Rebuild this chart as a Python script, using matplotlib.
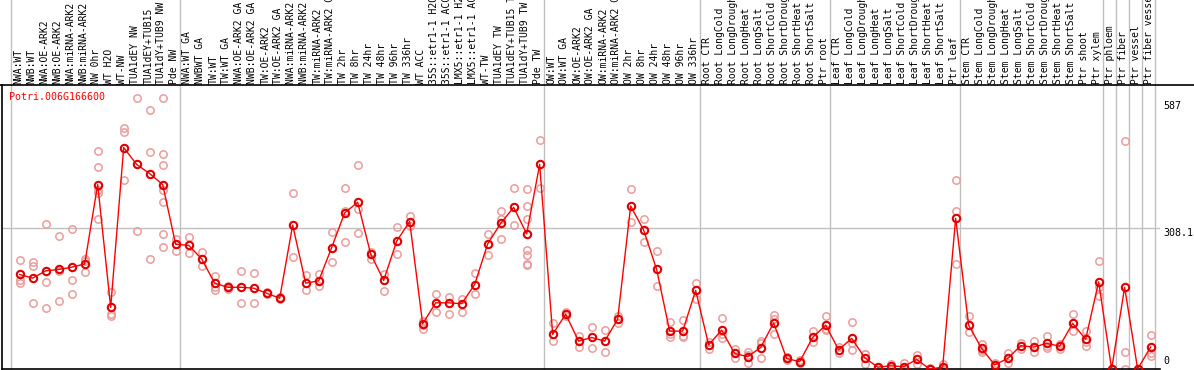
import matplotlib
matplotlib.use("Agg")
import matplotlib.pyplot as plt
from matplotlib.lines import Line2D
from matplotlib.transforms import blended_transform_factory

gene = "Potri.006G166600"

labels = [
    "NWA:WT", "NWB:WT", "NWA:OE-ARK2", "NWB:OE-ARK2", "NWA:miRNA-ARK2", "NWB:miRNA-ARK2",
    "NW 0hr", "WT H2O", "WT-NW", "TUA1dEY NW", "TUA1dEY+TUB15", "TUA1dY+TUB9 NW", "Pde NW",
    "NWA:WT GA", "NWBWT GA", "TW:WT", "TW:WT GA", "NWA:OE-ARK2 GA", "NWB:OE-ARK2 GA",
    "TW:OE-ARK2", "TW:OE-ARK2 GA", "NWA:miRNA-ARK2 GA", "NWB:miRNA-ARK2 GA", "TW:miRNA-ARK2",
    "TW:miRNA-ARK2 GA", "TW 2hr", "TW 8hr", "TW 24hr", "TW 48hr", "TW 96hr", "TW 336hr",
    "WT ACC", "35S::etr1-1 H2O", "35S::etr1-1 ACC", "LMX5::etr1-1 H2O", "LMX5::etr1-1 ACC",
    "WT-TW", "TUA1dEY TW", "TUA1dEY+TUB15 TW", "TUA1dY+TUB9 TW", "Pde TW",
    "OW:WT", "OW:WT GA", "OW:OE-ARK2", "OW:OE-ARK2 GA", "OW:miRNA-ARK2", "OW:miRNA-ARK2 GA",
    "OW 2hr", "OW 8hr", "OW 24hr", "OW 48hr", "OW 96hr", "OW 336hr",
    "Root CTR", "Root LongCold", "Root LongDrought", "Root LongHeat", "Root LongSalt",
    "Root ShortCold", "Root ShortDrought", "Root ShortHeat", "Root ShortSalt", "Ptr root",
    "Leaf CTR", "Leaf LongCold", "Leaf LongDrought", "Leaf LongHeat", "Leaf LongSalt",
    "Leaf ShortCold", "Leaf ShortDrought", "Leaf ShortHeat", "Leaf ShortSalt", "Ptr leaf",
    "Stem CTR", "Stem LongCold", "Stem LongDrought", "Stem LongHeat", "Stem LongSalt",
    "Stem ShortCold", "Stem ShortDrought", "Stem ShortHeat", "Stem ShortSalt", "Ptr shoot",
    "Ptr xylem", "Ptr phloem", "Ptr fiber", "Ptr vessel", "Ptr fiber vessel",
]

# mean expression per sample
means = [
    207, 199, 215, 218, 223, 230, 404, 135, 485, 448, 428, 404, 273,
    271, 241, 188, 179, 179, 177, 166, 155, 315, 188, 193, 266, 342, 365, 252,
    194, 280, 323, 99, 145, 145, 143, 185, 274, 319, 354, 296, 448,
    76, 120, 61, 69, 61, 109, 357, 304, 218, 83, 83, 172,
    53, 85, 34, 27, 47, 101, 23, 16, 69, 96,
    42, 67, 25, 4, 7, 5, 21, 0, 4, 330,
    96, 45, 9, 23, 51, 48, 56, 50, 100, 65,
    191, 0, 179, 0, 48,
]

# individual replicates per sample
reps = [
    [238, 195, 188], [234, 226, 144], [317, 190, 133], [291, 149, 215], [306, 196, 164],
    [241, 212, 237], [477, 442, 392, 385, 328], [169, 120, 115], [528, 518, 414],
    [593, 302], [567, 475, 241], [593, 470, 446, 392, 365, 295, 267], [285, 259],
    [289, 255], [256, 225], [204, 180, 173], [182, 176], [214, 144], [210, 144],
    [164, 168], [157, 153], [385, 245], [206, 173], [207, 182], [299, 234],
    [396, 347, 279], [446, 350, 297], [256, 242], [207, 170], [310, 252], [335, 314],
    [106, 96, 88], [164, 125], [157, 120], [153, 125], [210, 164], [295, 249],
    [346, 328, 285], [396, 315], [394, 357, 328, 261, 249, 231, 228], [501, 396],
    [100, 62], [125, 115], [73, 49], [93, 45], [85, 37], [115, 100], [394, 321],
    [328, 279], [258, 181], [102, 71, 76], [107, 72, 70], [188, 153],
    [60, 43], [111, 67, 77], [44, 23], [30, 14, 37], [62, 23, 56], [118, 76, 109],
    [27, 20], [20, 13], [83, 60], [115, 85, 88], [49, 34], [102, 42, 57],
    [32, 10, 33], [5, 3], [12, 4, 5], [14, 0], [31, 12], [2, 0, 0], [11, 1, 0],
    [413, 347, 229], [115, 82], [55, 42, 38], [14, 5], [34, 14], [58, 44],
    [62, 37], [72, 45, 51], [55, 43], [120, 84], [84, 51, 60], [236, 180, 160],
    [0, 0, 0], [499, 38, 0], [0, 0], [74, 34, 28],
]

# group separators sit just after these samples
separators = [-1, 12, 40, 52, 62, 72, 83, 84, 85, 86, 87]
axis_ticks = [587, 308.1, 0]

mono = "DejaVu Sans Mono"
W, H = 1194, 370
fig = plt.figure(figsize=(W / 100, H / 100), dpi=100)
ax_left, ax_right, ax_top, ax_bottom = 2, 1160, 85, 369
ax = fig.add_axes([ax_left / W, 1 - ax_bottom / H, (ax_right - ax_left) / W, (ax_bottom - ax_top) / H])

x = list(range(len(labels)))
ax.set_xlim(-1.36, 87.72)
ax.set_ylim(0, 622)

for s in separators:
    ax.axvline(s + 0.35, 0, ax_bottom / (ax_bottom - ax_top), color="#c0c0c0", lw=1,
               clip_on=False, zorder=1)
ax.axhline(308.1, color="#c0c0c0", lw=1, zorder=1)

rx, ry = [], []
for i, r in enumerate(reps):
    rx += [i] * len(r)
    ry += r
ax.plot(rx, ry, "o", ms=5.3, mfc="none", mec="#eb9c9c", mew=1.1, zorder=2)
ax.plot(x, means, "-", color="#ff0000", lw=1, zorder=3)
ax.plot(x, means, "o", ms=5.3, mfc="none", mec="#e00000", mew=1.5, zorder=4)

for side in ["top", "right"]:
    ax.spines[side].set_visible(False)
for side in ["left", "bottom"]:
    ax.spines[side].set_color("black")
    ax.spines[side].set_linewidth(1.2)
ax.set_xticks([])
ax.set_yticks([])

# black rule between the sample names and the plot, full width
fig.add_artist(Line2D([0, 1], [1 - ax_top / H, 1 - ax_top / H], color="black", lw=1.2))

trans = blended_transform_factory(ax.transData, ax.transAxes)
label_y = (ax_bottom - 83.5) / (ax_bottom - ax_top)
for i, lab in enumerate(labels):
    ax.text(i - 0.1, label_y, lab, rotation=90, ha="center", va="bottom", family=mono,
            fontsize=7.0, color="black", transform=trans, clip_on=False)

ax.text(0.0063, 0.975, gene, transform=ax.transAxes, ha="left", va="top", family=mono,
        fontsize=7.2, color="#ff0000")

for t in axis_ticks:
    va = "top" if t > 0 else "bottom"
    ax.annotate(f"{t:g}", xy=(1.0, t), xycoords=("axes fraction", "data"),
                xytext=(3, 0 if t > 0 else 3), textcoords="offset pixels",
                ha="left", va=va, family=mono, fontsize=7.2, color="black",
                annotation_clip=False)

fig.savefig("out.png", dpi=100)
